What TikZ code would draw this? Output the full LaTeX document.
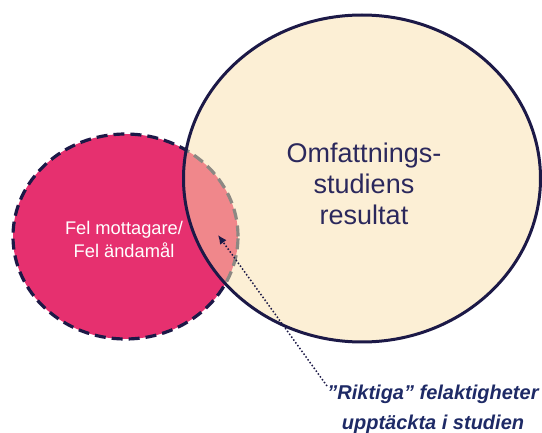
\documentclass[tikz,border=0pt]{standalone}
\usepackage{fontspec}
\setmainfont{Liberation Sans}
\usetikzlibrary{arrows.meta}
\definecolor{pinkA}{HTML}{E6306F}
\definecolor{beigeA}{HTML}{FCEFD5}
\definecolor{salmonA}{HTML}{F0878B}
\definecolor{navyA}{HTML}{1C1947}
\definecolor{navyT}{HTML}{2B285C}
\definecolor{navyL}{HTML}{1E2A66}
\definecolor{grayD}{HTML}{8C8883}
\tikzset{
  dashline/.style={line width=3.2pt, dash pattern=on 11pt off 6pt},
  solidline/.style={line width=3pt, draw=navyA},
  pinktext/.style={text=white, align=center, font=\fontsize{18.3}{23}\selectfont, inner sep=0pt},
  bigtext/.style={text=navyT, align=center, font=\fontsize{27}{31}\selectfont, inner sep=0pt},
  notetext/.style={text=navyL, align=center, font=\bfseries\itshape\fontsize{20}{30}\selectfont, inner sep=0pt},
  pointer/.style={navyA, line width=1.5pt, dotted, -{Latex[length=9pt,width=8pt]}}
}
\begin{document}
\begin{tikzpicture}[x=1pt,y=-1pt]
\useasboundingbox (0,0) rectangle (542,433);
\coordinate (felc) at (125.5,236.5);
\coordinate (omfc) at (362,178.5);
% pink ellipse
\fill[pinkA] (felc) ellipse [x radius=112.5pt, y radius=102.5pt];
\draw[dashline, draw=navyA] (felc) ellipse [x radius=112.5pt, y radius=102.5pt];
% big ellipse
\fill[beigeA] (omfc) ellipse [x radius=178.5pt, y radius=163.5pt];
\begin{scope}
  \clip (omfc) ellipse [x radius=178.5pt, y radius=163.5pt];
  \fill[salmonA] (felc) ellipse [x radius=112.5pt, y radius=102.5pt];
  \draw[dashline, draw=grayD] (felc) ellipse [x radius=112.5pt, y radius=102.5pt];
\end{scope}
\draw[solidline] (omfc) ellipse [x radius=178.5pt, y radius=163.5pt];
% texts
\node[pinktext] (fel) at (124,239) {Fel mottagare/\\Fel ändamål};
\node[bigtext] (omf) at (364,184) {Omfattnings-\\studiens\\resultat};
\node[notetext] (note) at (433,409) {”Riktiga” felaktigheter\\upptäckta i studien};
\coordinate (pstart) at (327,386);
\coordinate (pend) at (218,235);
\draw[pointer] (pstart) -- (pend);
\end{tikzpicture}
\end{document}
